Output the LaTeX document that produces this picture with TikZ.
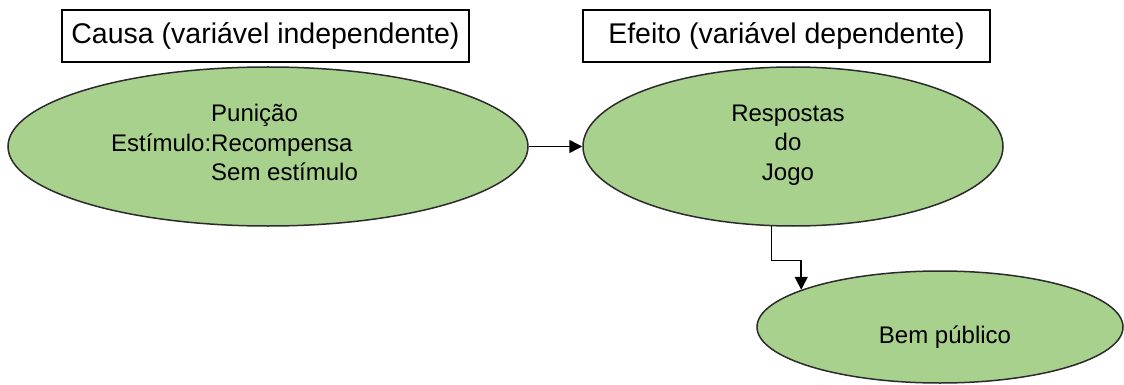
\documentclass[tikz,border=0pt]{standalone}
\usepackage{fontspec}
\setmainfont{Liberation Sans}
\usetikzlibrary{shapes.geometric,arrows.meta}
\definecolor{ovalgreen}{HTML}{A9D18E}
\definecolor{ovaledge}{HTML}{2B2B2B}
\begin{document}
\begin{tikzpicture}[x=1pt,y=-1pt,
  headbox/.style={draw=black,line width=1.4pt,rectangle,minimum width=407pt,minimum height=52pt,inner sep=0pt,font=\fontsize{28.5}{34}\selectfont},
  oval/.style={draw=ovaledge,fill=ovalgreen,line width=1.5pt,ellipse,inner sep=0pt},
  ovaltext/.style={inner sep=0pt,font=\fontsize{24}{29.5}\selectfont},
  conn/.style={draw=black,line width=1.5pt,-{Triangle[length=13pt,width=13pt]}}]
\useasboundingbox (0,0) rectangle (1124,385);
\node[headbox] (h1) at (265.5,36) {Causa (variável independente)};
\node[headbox] (h2) at (786.5,36) {Efeito (variável dependente)};
\node[oval,minimum width=520pt,minimum height=159pt] (e1) at (268,146.5) {};
\node[oval,minimum width=420pt,minimum height=159pt] (e2) at (793,146.5) {};
\node[oval,minimum width=366pt,minimum height=112pt] (e3) at (940,327) {};
\node[ovaltext,anchor=north west,align=left] (t1) at (211,104) {Punição\\\llap{Estímulo:}Recompensa\\Sem estímulo};
\node[ovaltext,anchor=north,align=center] (t2) at (788,104.5) {Respostas\\do\\Jogo};
\node[ovaltext,anchor=base] (t3) at (945,343) {Bem público};
\draw[conn] (e1.east) -- (e2.west);
\draw[conn] (e2.255) -- ++(0,34) -| (e3.165);
\end{tikzpicture}
\end{document}
